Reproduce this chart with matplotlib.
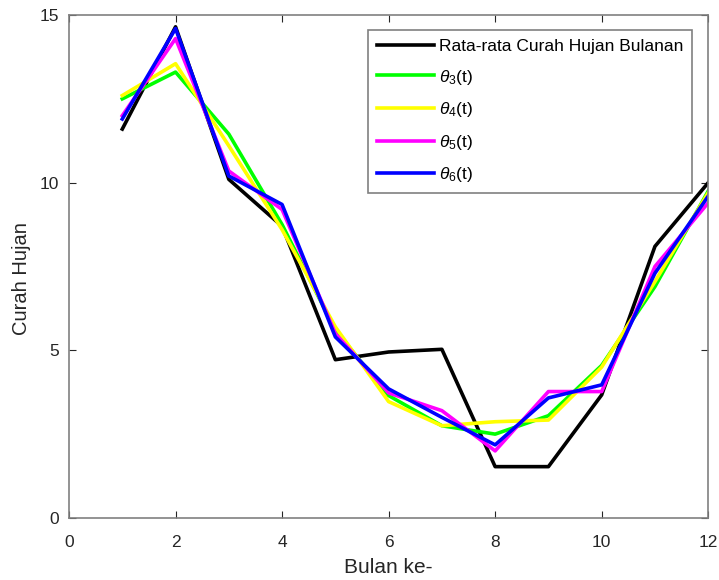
import matplotlib
matplotlib.use("Agg")
import matplotlib.pyplot as plt

plt.rcParams['font.family'] = ['Liberation Sans', 'DejaVu Sans']
plt.rcParams['mathtext.fontset'] = 'custom'
plt.rcParams['mathtext.rm'] = 'Liberation Sans'
plt.rcParams['mathtext.it'] = 'Liberation Sans:italic'

# data
bulan = [1, 2, 3, 4, 5, 6, 7, 8, 9, 10, 11, 12]
rata_rata = [11.6, 14.65, 10.1, 8.7, 4.72, 4.95, 5.03, 1.53, 1.53, 3.67, 8.1, 10.0]
theta3 = [12.5, 13.3, 11.45, 8.75, 5.6, 3.65, 2.75, 2.5, 3.05, 4.55, 6.9, 9.75]
theta4 = [12.6, 13.55, 11.1, 8.6, 5.7, 3.47, 2.75, 2.87, 2.92, 4.5, 7.05, 9.7]
theta5 = [12.0, 14.3, 10.35, 9.2, 5.5, 3.73, 3.2, 2.0, 3.77, 3.77, 7.5, 9.4]
theta6 = [11.9, 14.6, 10.2, 9.35, 5.4, 3.85, 3.0, 2.18, 3.58, 3.97, 7.3, 9.6]

series = [
    (rata_rata, 'black', 'Rata-rata Curah Hujan Bulanan'),
    (theta3, '#00ff00', r'$\theta_3$(t)'),
    (theta4, '#ffff00', r'$\theta_4$(t)'),
    (theta5, '#ff00ff', r'$\theta_5$(t)'),
    (theta6, '#0000ff', r'$\theta_6$(t)'),
]

fig = plt.figure(figsize=(7.19, 5.80), dpi=100)
ax = fig.add_axes([0.096, 0.107, 0.889, 0.867])

for vals, col, lab in series:
    ax.plot(bulan, vals, color=col, linewidth=2.6, label=lab)

ax.set_xlim(0, 12)
ax.set_ylim(0, 15)
ax.set_xticks([0, 2, 4, 6, 8, 10, 12])
ax.set_yticks([0, 5, 10, 15])
ax.tick_params(direction='in', top=True, right=True, labelsize=12.5, colors='#262626',
               length=5)
ax.tick_params(axis='x', pad=12)
ax.tick_params(axis='y', pad=7)
for s in ax.spines.values():
    s.set_color('#808080')
    s.set_linewidth(1.2)
ax.set_xlabel('Bulan ke-', fontsize=15, color='#262626', labelpad=6)
ax.set_ylabel('Curah Hujan', fontsize=14.5, color='#262626')
ax.yaxis.set_label_coords(-0.059, 0.477)

leg = ax.legend(loc='upper right', bbox_to_anchor=(0.974, 0.97), fontsize=12.5,
                fancybox=False, framealpha=1, edgecolor='#808080',
                handlelength=3.3, handletextpad=0.25, labelspacing=0.78,
                borderpad=0.5, borderaxespad=0)
leg.get_frame().set_linewidth(1.2)

fig.savefig('out.png', dpi=100)
